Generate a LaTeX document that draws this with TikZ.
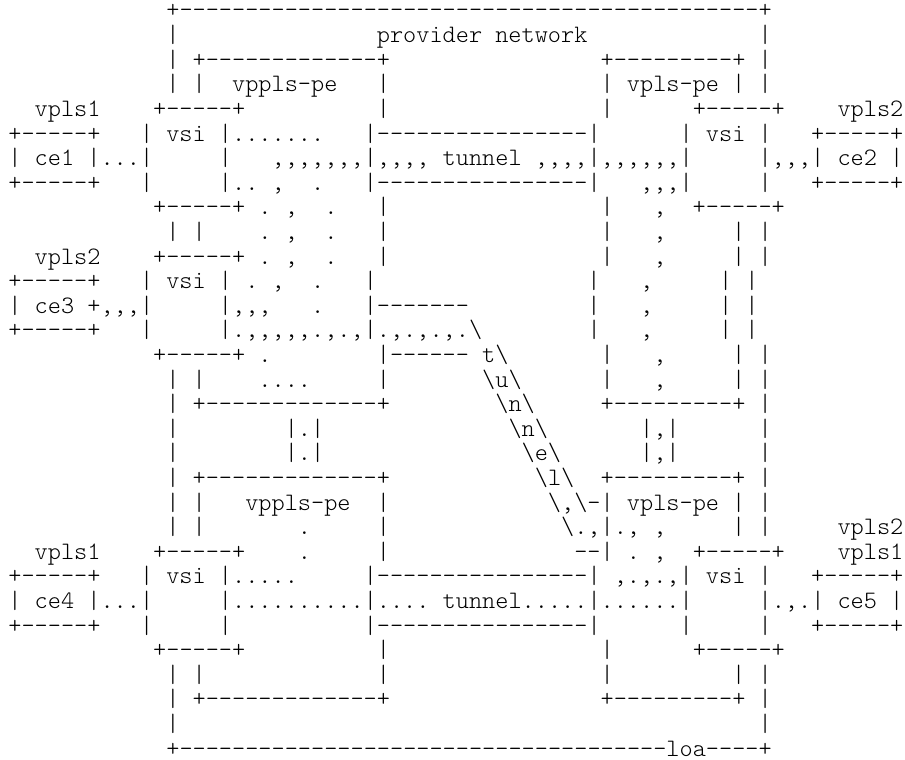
\documentclass[tikz,border=0pt]{standalone}
\usepackage{tikz}

\newlength\chw
\setlength\chw{13.16pt}
\newcommand\gap[1]{\hspace*{#1\chw}}
\newcommand\dashes[1]{\foreach\k in {1,...,#1}{-}}
\newcommand\bs{\textbackslash}

\begin{document}
\begin{tikzpicture}[x=1pt,y=-1pt,
    asc/.style={anchor=base west,inner sep=0pt,outer sep=0pt,
      font=\fontsize{25.07}{25}\ttfamily\fontseries{l}\selectfont}]
  \useasboundingbox (0,0) rectangle (905,760);
  \node[asc] (l1)  at (8.42,18)    {\gap{12}+\dashes{44}+};
  \node[asc] (l2)  at (8.42,42.6)  {\gap{12}|\gap{15}provider\gap{1}network\gap{13}|};
  \node[asc] (l3)  at (8.42,67.2)  {\gap{12}|\gap{1}+\dashes{13}+\gap{16}+\dashes{9}+\gap{1}|};
  \node[asc] (l4)  at (8.42,91.8)  {\gap{12}|\gap{1}|\gap{2}vppls-pe\gap{3}|\gap{16}|\gap{1}vpls-pe\gap{1}|\gap{1}|};
  \node[asc] (l5)  at (8.42,116.4) {\gap{2}vpls1\gap{4}+-----+\gap{10}|\gap{16}|\gap{6}+-----+\gap{4}vpls2};
  \node[asc] (l6)  at (8.42,141)   {+-----+\gap{3}|\gap{1}vsi\gap{1}|.......\gap{3}|\dashes{16}|\gap{6}|\gap{1}vsi\gap{1}|\gap{3}+-----+};
  \node[asc] (l7)  at (8.42,165.6) {|\gap{1}ce1\gap{1}|...|\gap{5}|\gap{3},,,,,,,|,,,,\gap{1}tunnel\gap{1},,,,|,,,,,,|\gap{5}|,,,|\gap{1}ce2\gap{1}|};
  \node[asc] (l8)  at (8.42,190.2) {+-----+\gap{3}|\gap{5}|..\gap{1},\gap{2}.\gap{3}|\dashes{16}|\gap{3},,,|\gap{5}|\gap{3}+-----+};
  \node[asc] (l9)  at (8.42,214.8) {\gap{11}+-----+\gap{1}.\gap{1},\gap{2}.\gap{3}|\gap{16}|\gap{3},\gap{2}+-----+};
  \node[asc] (l10) at (8.42,239.4) {\gap{12}|\gap{1}|\gap{4}.\gap{1},\gap{2}.\gap{3}|\gap{16}|\gap{3},\gap{5}|\gap{1}|};
  \node[asc] (l11) at (8.42,264)   {\gap{2}vpls2\gap{4}+-----+\gap{1}.\gap{1},\gap{2}.\gap{3}|\gap{16}|\gap{3},\gap{5}|\gap{1}|};
  \node[asc] (l12) at (8.42,288.6) {+-----+\gap{3}|\gap{1}vsi\gap{1}|\gap{1}.\gap{1},\gap{2}.\gap{3}|\gap{16}|\gap{3},\gap{5}|\gap{1}|};
  \node[asc] (l13) at (8.42,313.2) {|\gap{1}ce3\gap{1}+,,,|\gap{5}|,,,\gap{3}.\gap{3}|-------\gap{9}|\gap{3},\gap{5}|\gap{1}|};
  \node[asc] (l14) at (8.42,337.8) {+-----+\gap{3}|\gap{5}|.,,,,,.,.,|.,.,.,.\bs\gap{8}|\gap{3},\gap{5}|\gap{1}|};
  \node[asc] (l15) at (8.42,362.4) {\gap{11}+-----+\gap{1}.\gap{8}|------\gap{1}t\bs\gap{7}|\gap{3},\gap{5}|\gap{1}|};
  \node[asc] (l16) at (8.42,387)   {\gap{12}|\gap{1}|\gap{4}....\gap{5}|\gap{7}\bs u\bs\gap{6}|\gap{3},\gap{5}|\gap{1}|};
  \node[asc] (l17) at (8.42,411.6) {\gap{12}|\gap{1}+\dashes{13}+\gap{8}\bs n\bs\gap{5}+\dashes{9}+\gap{1}|};
  \node[asc] (l18) at (8.42,436.2) {\gap{12}|\gap{8}|.|\gap{14}\bs n\bs\gap{7}|,|\gap{6}|};
  \node[asc] (l19) at (8.42,460.8) {\gap{12}|\gap{8}|.|\gap{15}\bs e\bs\gap{6}|,|\gap{6}|};
  \node[asc] (l20) at (8.42,485.4) {\gap{12}|\gap{1}+\dashes{13}+\gap{11}\bs l\bs\gap{2}+\dashes{9}+\gap{1}|};
  \node[asc] (l21) at (8.42,510)   {\gap{12}|\gap{1}|\gap{3}vppls-pe\gap{2}|\gap{12}\bs,\bs-|\gap{1}vpls-pe\gap{1}|\gap{1}|};
  \node[asc] (l22) at (8.42,534.6) {\gap{12}|\gap{1}|\gap{7}.\gap{5}|\gap{13}\bs.,|.,\gap{1},\gap{5}|\gap{1}|\gap{5}vpls2};
  \node[asc] (l23) at (8.42,559.2) {\gap{2}vpls1\gap{4}+-----+\gap{4}.\gap{5}|\gap{14}-{}-|\gap{1}.\gap{1},\gap{2}+-----+\gap{4}vpls1};
  \node[asc] (l24) at (8.42,583.8) {+-----+\gap{3}|\gap{1}vsi\gap{1}|.....\gap{5}|\dashes{16}|\gap{1},.,.,|\gap{1}vsi\gap{1}|\gap{3}+-----+};
  \node[asc] (l25) at (8.42,608.4) {|\gap{1}ce4\gap{1}|...|\gap{5}|..........|....\gap{1}tunnel.....|......|\gap{5}|.,.|\gap{1}ce5\gap{1}|};
  \node[asc] (l26) at (8.42,633)   {+-----+\gap{3}|\gap{5}|\gap{10}|\dashes{16}|\gap{6}|\gap{5}|\gap{3}+-----+};
  \node[asc] (l27) at (8.42,657.6) {\gap{11}+-----+\gap{10}|\gap{16}|\gap{6}+-----+};
  \node[asc] (l28) at (8.42,682.2) {\gap{12}|\gap{1}|\gap{13}|\gap{16}|\gap{9}|\gap{1}|};
  \node[asc] (l29) at (8.42,706.8) {\gap{12}|\gap{1}+\dashes{13}+\gap{16}+\dashes{9}+\gap{1}|};
  \node[asc] (l30) at (8.42,731.4) {\gap{12}|\gap{44}|};
  \node[asc] (l31) at (8.42,756)   {\gap{12}+\dashes{37}loa\dashes{4}+};
\end{tikzpicture}
\end{document}
